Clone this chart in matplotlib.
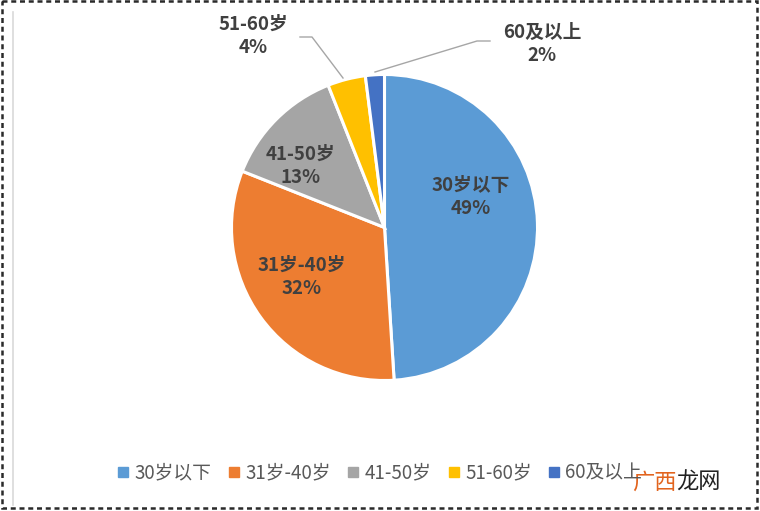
import matplotlib
matplotlib.use("Agg")
import matplotlib.pyplot as plt
from matplotlib.lines import Line2D
from matplotlib.patches import Rectangle

plt.rcParams['font.family'] = ['Noto Sans CJK SC', 'DejaVu Sans']

# data
labels = ['30岁以下', '31岁-40岁', '41-50岁', '51-60岁', '60及以上']
values = [49, 32, 13, 4, 2]
colors = ['#5B9BD5', '#ED7D31', '#A5A5A5', '#FFC000', '#4472C4']

W, H = 760, 511
fig = plt.figure(figsize=(W / 100, H / 100), dpi=100)
ax = fig.add_axes([0, 0, 1, 1])

# pie in pixel coords (y axis flipped -> counterclock=True draws clockwise on screen)
cx, cy, r = 384.5, 227.5, 153
ax.pie(values, colors=colors, startangle=-90, counterclock=True,
       center=(cx, cy), radius=r, frame=True,
       wedgeprops=dict(edgecolor='white', linewidth=2.2))
ax.set_xlim(0, W)
ax.set_ylim(H, 0)
ax.axis('off')

# data labels (pixel positions of label text centres)
lab_pos = [(471, 197), (302, 277), (301, 166), (253, 36), (542, 44)]
for (x, y), lab, v in zip(lab_pos, labels, values):
    ax.text(x, y, f'{lab}\n{v}%', ha='center', va='center', fontsize=13.5,
            fontweight='bold', color='#404040', linespacing=1.3)

# leader lines for the small slices
ax.plot([300, 312, 343], [37, 37, 78], color='#A6A6A6', lw=1)
ax.plot([490, 477, 375], [41, 41, 72], color='#A6A6A6', lw=1)

# legend
handles = [Line2D([], [], marker='s', linestyle='none', markersize=7.5,
                  markerfacecolor=c, markeredgecolor=c) for c in colors]
fig.legend(handles, labels, loc='center', bbox_to_anchor=(0.5, 1 - 473 / H),
           ncol=5, frameon=False, fontsize=13.5, handlelength=0.6,
           handletextpad=0.3, columnspacing=0.9, labelcolor='#595959')

# borders
ax.plot([13, 13], [12, 505], color='#D9D9D9', lw=1.2)
ax.add_patch(Rectangle((1.5, 1.5), W - 5, H - 4, fill=False, edgecolor='#2a2a2a',
                       lw=1.8, linestyle=(0, (2.0, 1.5))))

# watermark
ax.text(632, 482, '广西', fontsize=16, color='#E2641E', va='center', ha='left')
ax.text(676, 482, '龙网', fontsize=16, color='#222222', va='center', ha='left')

fig.savefig('out.png', dpi=100)
